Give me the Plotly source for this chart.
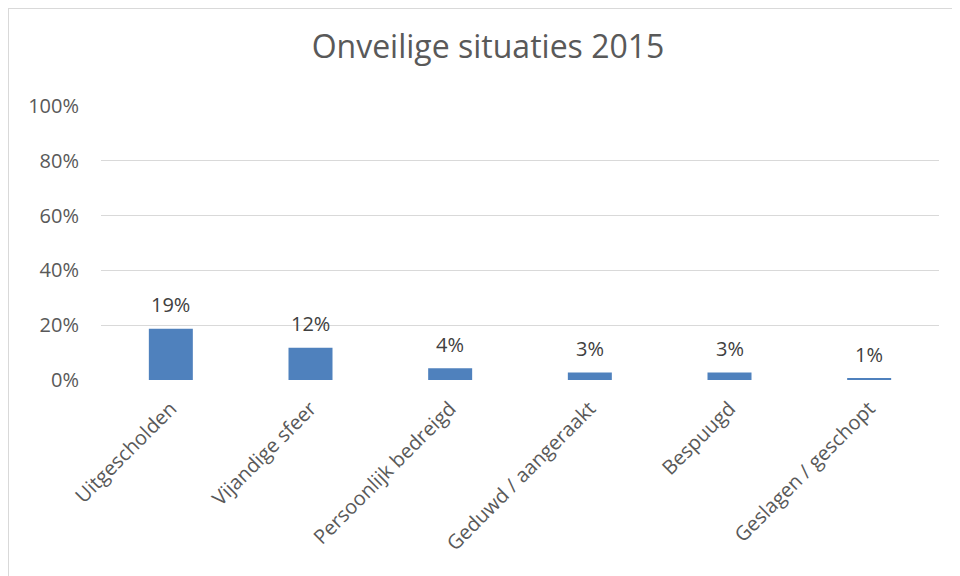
import plotly.graph_objects as go

categories = ["Uitgescholden", "Vijandige sfeer", "Persoonlijk bedreigd",
              "Geduwd / aangeraakt", "Bespuugd", "Geslagen / geschopt"]
values = [0.187, 0.118, 0.043, 0.027, 0.027, 0.007]
y_ticks = [0, 0.2, 0.4, 0.6, 0.8, 1.0]
y_tick_labels = ["0%", "20%", "40%", "60%", "80%", "100%"]
title_text = "Onveilige situaties 2015"

W, H = 960, 576
L, R, T, B = 93, 29, 98, 204
PW, PH = W - L - R, H - T - B

font_family = "Open Sans, Segoe UI, Calibri, sans-serif"
gray = "#595959"

fig = go.Figure()
fig.add_trace(go.Bar(
    x=categories, y=values,
    marker=dict(color="#4F81BD", line=dict(width=0)),
    hoverinfo="skip",
))

annotations = []
for c, v in zip(categories, values):
    annotations.append(dict(
        x=c, y=v, xref="x", yref="y",
        text=f"{round(v * 100):.0f}%",
        showarrow=False, yshift=24, yanchor="middle",
        font=dict(family=font_family, size=20, color="#404040"),
    ))

fig.update_layout(
    width=W, height=H,
    margin=dict(l=L, r=R, t=T, b=B, pad=0),
    paper_bgcolor="white", plot_bgcolor="white",
    showlegend=False,
    bargap=0.685,
    title=dict(text=title_text, x=0.5, xref="container", xanchor="center",
               y=1 - 39 / H, yref="container", yanchor="middle",
               font=dict(family=font_family, size=32, color=gray)),
    xaxis=dict(
        tickangle=-45, showgrid=False, zeroline=False, showline=False,
        ticks="", ticklabelstandoff=12,
        tickfont=dict(family=font_family, size=20, color=gray),
    ),
    yaxis=dict(
        range=[0, 1], tickvals=y_ticks, ticktext=y_tick_labels,
        showgrid=True, gridcolor="#D9D9D9", gridwidth=1.3,
        zeroline=False, showline=False, ticks="", ticklabelstandoff=21,
        tickfont=dict(family=font_family, size=20, color=gray),
    ),
    annotations=annotations,
    shapes=[dict(
        type="rect", xref="paper", yref="paper", layer="below",
        x0=-L / PW, x1=1 + (R + 40) / PW,
        y0=-(B + 40) / PH, y1=1 + T / PH,
        line=dict(color="#D9D9D9", width=2), fillcolor="rgba(0,0,0,0)",
    )],
)

fig.write_html("out.html")
